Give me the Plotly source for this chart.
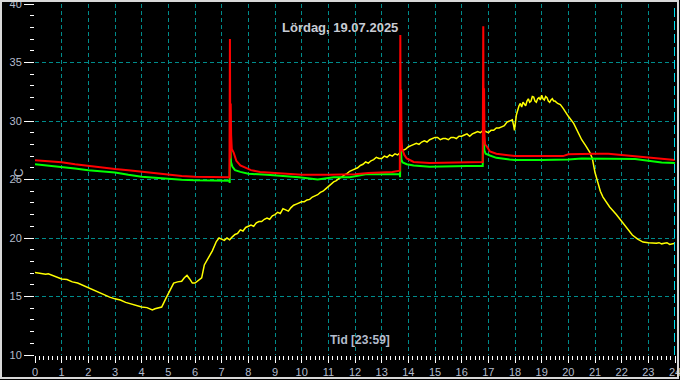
import plotly.graph_objects as go

# ---- data ----
red_t = [0, 0.5, 1, 1.5, 2, 2.5, 3, 3.5, 4, 4.5, 5, 5.5, 6, 6.5, 7, 7.29,
         7.31, 7.325, 7.34, 7.355, 7.38, 7.45, 7.55, 7.7, 7.9, 8.1, 8.44, 9, 10, 11, 12, 12.5, 13, 13.4, 13.68,
         13.70, 13.715, 13.73, 13.745, 13.77, 13.85, 13.94, 14.2, 14.8, 15.5, 16, 16.5, 16.79,
         16.81, 16.825, 16.84, 16.855, 16.88, 16.95, 17.06, 17.3, 17.8, 18, 19, 19.8, 20, 20.5, 21, 21.5, 22, 22.5, 23, 23.5, 24]
red_v = [26.65, 26.55, 26.47, 26.3, 26.15, 26.0, 25.9, 25.8, 25.67, 25.55, 25.4, 25.3, 25.24, 25.2, 25.19, 25.2,
         37.0, 26.8, 31.5, 28.8, 27.6, 27.3, 26.6, 26.2, 26.0, 25.8, 25.65, 25.55, 25.4, 25.4, 25.45, 25.55, 25.6, 25.65, 25.75,
         37.35, 27.4, 32.7, 28.5, 27.6, 27.1, 26.8, 26.5, 26.4, 26.44, 26.44, 26.44, 26.5,
         38.1, 28.5, 32.8, 28.8, 28.0, 27.8, 27.4, 27.2, 27.05, 27.0, 27.0, 27.0, 27.15, 27.2, 27.2, 27.2, 27.1, 27.0, 26.9, 26.8, 26.67]

green_t = [0, 0.5, 1, 1.5, 2, 2.5, 3, 3.5, 4, 4.5, 5, 5.5, 6, 6.5, 7, 7.29, 7.30,
           7.32, 7.35, 7.4, 7.5, 7.7, 8.0, 8.44, 8.7, 9.3, 9.9, 10.6, 11.2, 11.8, 12.4, 13.0, 13.68, 13.69,
           13.71, 13.74, 13.79, 13.94, 14.2, 14.8, 15.5, 16.2, 16.79,
           16.81, 16.85, 16.9, 17.06, 17.3, 17.8, 18, 19, 20, 20.5, 21, 21.5, 22, 22.5, 23, 23.5, 24]
green_v = [26.3, 26.2, 26.1, 25.95, 25.8, 25.7, 25.6, 25.4, 25.24, 25.15, 25.04, 24.98, 24.93, 24.92, 24.9, 24.9, 24.7,
           28.2, 26.5, 26.1, 25.8, 25.65, 25.5, 25.4, 25.4, 25.3, 25.2, 25.0, 25.2, 25.2, 25.45, 25.45, 25.45, 25.2,
           28.7, 26.7, 26.45, 26.3, 26.2, 26.1, 26.15, 26.15, 26.15,
           29.4, 27.5, 27.2, 27.05, 26.85, 26.7, 26.67, 26.67, 26.7, 26.8, 26.8, 26.8, 26.8, 26.75, 26.6, 26.45, 26.4]

yellow_t = [0.0, 0.2, 0.4, 0.5, 0.6, 0.8, 1.0, 1.2, 1.4, 1.6, 1.8, 2.0, 2.2, 2.4, 2.6, 2.8, 3.0, 3.2, 3.4, 3.6,
            3.8, 4.0, 4.2, 4.4, 4.5, 4.6, 4.75, 4.9, 5.0, 5.1, 5.2, 5.35, 5.5, 5.6, 5.7, 5.8, 5.9, 6.0, 6.15, 6.25,
            6.35, 6.45, 6.55, 6.65, 6.8, 6.9,
            7.0, 7.1, 7.2, 7.3, 7.4, 7.5, 7.6, 7.7, 7.8, 7.9, 8.0, 8.1, 8.2, 8.3, 8.4, 8.5, 8.6, 8.7, 8.8, 8.9,
            9.0, 9.1, 9.2, 9.3, 9.4, 9.5, 9.6, 9.7, 9.8, 9.9, 10.0, 10.1, 10.2, 10.3, 10.4, 10.5, 10.6, 10.7, 10.8, 10.9,
            11.0, 11.1, 11.2, 11.3, 11.4, 11.5, 11.6, 11.7, 11.8, 11.9, 12.0, 12.1, 12.2, 12.3, 12.4, 12.5, 12.6, 12.7, 12.8, 12.9,
            13.0, 13.1, 13.2, 13.3, 13.4, 13.5, 13.6, 13.7, 13.8, 13.9, 14.0, 14.1, 14.2, 14.3, 14.4, 14.5, 14.6, 14.7, 14.8, 14.9,
            15.0, 15.1, 15.2, 15.3, 15.4, 15.5, 15.6, 15.7, 15.8, 15.9, 16.0, 16.1, 16.2, 16.3, 16.4, 16.5, 16.6, 16.7, 16.8, 16.9,
            17.0, 17.1, 17.2, 17.3, 17.4, 17.5, 17.6, 17.7, 17.8, 17.9, 17.95, 17.98,
            18.05, 18.1, 18.15, 18.2, 18.25, 18.3, 18.35, 18.4, 18.45, 18.5, 18.55, 18.6, 18.65, 18.7, 18.75, 18.8, 18.85, 18.9, 18.95, 19.0,
            19.05, 19.1, 19.15, 19.2, 19.25, 19.3, 19.35, 19.4, 19.45, 19.5, 19.6, 19.7, 19.8, 19.9,
            20.0, 20.2, 20.35, 20.5, 20.65, 20.8, 20.9, 21.0, 21.1, 21.2, 21.3, 21.45, 21.55, 21.8, 22.05, 22.2, 22.4, 22.6, 22.8, 23.0,
            23.2, 23.3, 23.4, 23.5, 23.6, 23.7, 23.8, 23.9, 24.0]
yellow_v = [17.05, 16.95, 16.9, 16.95, 16.85, 16.7, 16.5, 16.45, 16.25, 16.15, 15.95, 15.75, 15.5, 15.3, 15.15, 14.95, 14.8, 14.7, 14.5, 14.35,
            14.2, 14.1, 14.05, 13.85, 13.95, 14.0, 14.1, 14.8, 15.3, 15.8, 16.15, 16.25, 16.3, 16.6, 16.8, 16.5, 16.15, 16.15, 16.4, 16.6,
            17.7, 18.1, 18.4, 18.9, 19.7, 20.0,
            19.9, 19.8, 20.0, 19.85, 20.1, 20.3, 20.4, 20.7, 20.6, 20.9, 21.0, 21.1, 21.0, 21.3, 21.4, 21.4, 21.6, 21.7, 21.6, 21.9,
            22.0, 22.2, 22.1, 22.5, 22.4, 22.3, 22.6, 22.8, 22.9, 23.0, 23.1, 23.1, 23.25, 23.3, 23.5, 23.6, 23.7, 23.9, 24.0, 24.2,
            24.4, 24.6, 24.8, 24.9, 25.1, 25.2, 25.4, 25.5, 25.7, 25.8, 25.9, 26.0, 26.2, 26.3, 26.5, 26.4, 26.6, 26.7, 26.9, 26.8,
            26.8, 27.0, 26.9, 27.1, 27.0, 27.2, 27.1, 27.3, 27.5, 27.6, 27.8, 27.9, 28.0, 28.1, 28.0, 28.2, 28.3, 28.2, 28.4, 28.5,
            28.6, 28.6, 28.4, 28.5, 28.5, 28.4, 28.6, 28.6, 28.5, 28.7, 28.7, 28.8, 28.9, 28.7, 28.9, 29.0, 29.1, 29.0, 29.2, 29.1,
            29.0, 29.2, 29.2, 29.4, 29.4, 29.5, 29.6, 29.9, 30.0, 30.1, 29.6, 29.2,
            30.5, 31.0, 31.3, 31.5, 31.2, 31.6, 31.4, 31.3, 31.7, 31.9, 31.6, 31.7, 32.1, 32.05, 31.7, 31.6, 31.9, 32.0, 31.8, 32.2,
            31.9, 31.8, 32.1, 32.0, 31.7, 31.6, 31.8, 31.9, 31.7, 31.7, 31.5, 31.4, 31.1, 30.7,
            30.4, 29.8, 29.1, 28.4, 27.9, 27.35, 26.8, 25.6, 24.8, 24.0, 23.5, 23.0, 22.65, 22.0, 21.3, 20.8, 20.25, 19.9, 19.65, 19.6,
            19.55, 19.55, 19.6, 19.5, 19.55, 19.6, 19.45, 19.5, 19.55]

x_ticks = list(range(0, 25))
y_ticks = [10, 15, 20, 25, 30, 35, 40]
title_text = "Lördag, 19.07.2025"
xlabel_text = "Tid [23:59]"
ylabel_text = "°C"

# ---- figure ----
fig = go.Figure()
fig.add_trace(go.Scatter(x=yellow_t, y=yellow_v, mode="lines", line=dict(color="#ffff00", width=1.5), hoverinfo="skip"))
fig.add_trace(go.Scatter(x=green_t, y=green_v, mode="lines", line=dict(color="#00ff00", width=2), hoverinfo="skip"))
fig.add_trace(go.Scatter(x=red_t, y=red_v, mode="lines", line=dict(color="#ff0000", width=2), hoverinfo="skip"))

W, H = 680, 380
L, R, T, B = 35, 5, 4, 25
pw, ph = W - L - R, H - T - B

tickfont = dict(family="Liberation Sans, Arial", size=11, color="#b4bccc")
gridc = "#008b8b"

fig.update_layout(
    width=W, height=H,
    margin=dict(l=L, r=R, t=T, b=B, autoexpand=False),
    paper_bgcolor="black", plot_bgcolor="black",
    showlegend=False,
    xaxis=dict(range=[0, 24], tickvals=x_ticks, ticktext=[str(v) for v in x_ticks],
               showgrid=True, gridcolor=gridc, griddash="4px,3px", gridwidth=1,
               ticks="outside", ticklen=7, tickcolor="white", tickwidth=1,
               tickfont=tickfont, zeroline=False, showline=False, fixedrange=True,
               ticklabeloverflow="allow", automargin=False,
               minor=dict(dtick=1/6, tick0=0, ticks="outside", ticklen=4, tickcolor="white", showgrid=False)),
    yaxis=dict(range=[10, 40], tickvals=y_ticks, ticktext=[str(v) for v in y_ticks],
               showgrid=True, gridcolor=gridc, griddash="4px,3px", gridwidth=1,
               ticks="outside", ticklen=10, tickcolor="white", tickwidth=1,
               tickfont=tickfont, zeroline=False, showline=False, fixedrange=True,
               ticklabeloverflow="allow", automargin=False,
               minor=dict(dtick=1, tick0=10, ticks="outside", ticklen=4, tickcolor="white", showgrid=False)),
)

# hide grid lines at the plot edges (0 h, 10 and 40 degrees)
fig.add_shape(type="line", xref="x", yref="paper", x0=0, x1=0, y0=0, y1=1,
              line=dict(color="black", width=2), layer="between")
fig.add_shape(type="line", xref="paper", yref="y", x0=0, x1=1, y0=10, y1=10,
              line=dict(color="black", width=2), layer="between")
fig.add_shape(type="line", xref="paper", yref="y", x0=0, x1=1, y0=40, y1=40,
              line=dict(color="black", width=2), layer="between")

# current-time marker at 24 h
fig.add_shape(type="line", xref="x", yref="paper", x0=24, x1=24, y0=0, y1=1,
              line=dict(color="#00e0f0", width=2, dash="9px,4px"))

# outer white frame
fig.add_shape(type="rect", xref="paper", yref="paper",
              x0=(1 - L) / pw, x1=(W - 2 - L) / pw,
              y0=(H - B - (H - 2)) / ph, y1=(H - B - 1) / ph,
              line=dict(color="#d8d8d8", width=2))

fig.add_annotation(text=title_text, xref="paper", yref="paper",
                   x=(340 - L) / pw, y=(H - B - 18) / ph, showarrow=False,
                   font=dict(family="Liberation Sans, Arial", size=13, color="#c8ccd4", weight="bold"))
fig.add_annotation(text=xlabel_text, xref="paper", yref="paper",
                   x=(360 - L) / pw, y=(H - B - 349) / ph, showarrow=False,
                   font=dict(family="Liberation Sans, Arial", size=12, color="#b4bccc", weight="bold"))
fig.add_annotation(text=ylabel_text, xref="paper", yref="paper",
                   x=(10 - L) / pw, y=(H - B - 175) / ph, showarrow=False, textangle=-90,
                   font=dict(family="Liberation Sans, Arial", size=12, color="#b4bccc"))

fig.write_html("out.html")
